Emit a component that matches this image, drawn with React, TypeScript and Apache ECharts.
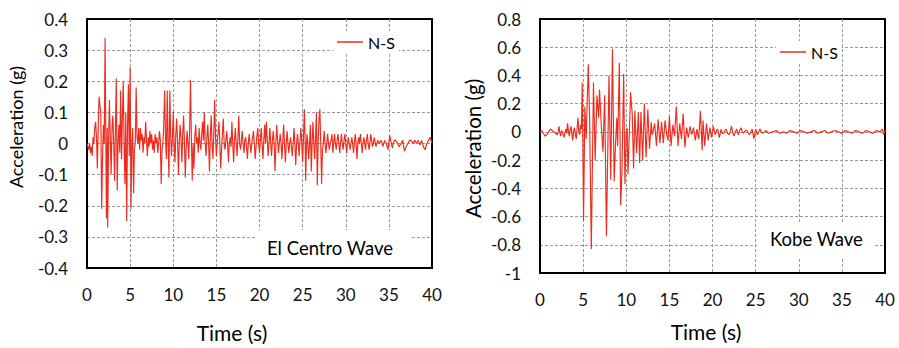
import React, { useEffect, useRef } from "react";
import * as echarts from "echarts";

// [time (s), acceleration (g)]
const elCentroNS: [number, number][] = [
  [0.0, 0.0], [0.1, -0.01], [0.2, -0.02], [0.3, 0.0], [0.4, -0.03], [0.5, -0.01], [0.6, -0.04], [0.7, 0.02], [0.8, 0.0], [0.9, 0.05],
  [1.0, 0.07], [1.1, 0.02], [1.2, -0.08], [1.3, 0.05], [1.4, 0.15], [1.5, 0.12], [1.6, 0.1], [1.7, -0.21], [1.8, -0.05], [1.9, 0.06],
  [2.0, 0.0], [2.1, 0.34], [2.2, -0.05], [2.25, -0.24], [2.35, 0.05], [2.4, -0.27], [2.5, 0.0], [2.6, 0.14], [2.7, 0.02], [2.8, -0.1],
  [2.9, 0.05], [3.0, 0.09], [3.1, 0.0], [3.2, -0.12], [3.3, 0.05], [3.4, 0.21], [3.5, -0.15], [3.6, 0.0], [3.7, 0.06], [3.8, -0.03],
  [3.9, 0.17], [4.0, -0.05], [4.1, 0.08], [4.2, 0.2], [4.3, 0.0], [4.4, -0.13], [4.5, 0.1], [4.6, -0.25], [4.7, 0.05], [4.8, 0.19],
  [4.9, -0.04], [5.0, 0.245], [5.1, -0.21], [5.2, 0.0], [5.3, 0.05], [5.4, -0.16], [5.5, -0.02], [5.6, 0.0], [5.7, 0.18], [5.8, 0.02],
  [5.9, 0.0], [6.0, 0.05], [6.1, -0.02], [6.2, 0.05], [6.3, 0.01], [6.4, 0.03], [6.5, -0.03], [6.6, 0.02], [6.7, 0.0], [6.8, 0.07],
  [6.9, 0.01], [7.0, -0.04], [7.1, 0.02], [7.2, -0.01], [7.3, 0.04], [7.4, 0.0], [7.5, 0.03], [7.6, -0.02], [7.7, 0.01], [7.8, -0.03],
  [7.9, 0.03], [8.0, 0.0], [8.1, 0.02], [8.2, -0.03], [8.3, 0.0], [8.4, 0.04], [8.5, 0.01], [8.6, -0.13], [8.7, -0.02], [8.8, 0.0],
  [8.9, 0.06], [9.0, 0.17], [9.1, 0.02], [9.2, -0.05], [9.3, 0.17], [9.4, 0.0], [9.5, -0.11], [9.6, 0.17], [9.7, 0.03], [9.8, -0.04],
  [9.9, 0.02], [10.0, 0.1], [10.1, 0.0], [10.2, -0.06], [10.3, 0.03], [10.4, 0.08], [10.5, 0.01], [10.6, -0.1], [10.7, 0.0], [10.8, 0.06],
  [10.9, 0.02], [11.0, -0.06], [11.1, 0.03], [11.2, 0.09], [11.3, 0.0], [11.4, -0.11], [11.5, -0.01], [11.6, 0.04], [11.7, 0.0], [11.8, -0.05],
  [11.9, 0.05], [12.0, 0.205], [12.1, 0.02], [12.2, -0.12], [12.3, 0.0], [12.4, -0.08], [12.5, 0.02], [12.6, 0.06], [12.7, 0.0], [12.8, 0.02],
  [12.9, -0.03], [13.0, 0.05], [13.1, 0.0], [13.2, -0.02], [13.3, 0.03], [13.4, 0.07], [13.5, 0.01], [13.6, 0.1], [13.7, 0.0], [13.8, -0.04],
  [13.9, 0.02], [14.0, 0.06], [14.1, 0.0], [14.2, -0.09], [14.3, 0.02], [14.4, 0.09], [14.5, 0.0], [14.6, -0.05], [14.7, 0.03], [14.8, 0.14],
  [14.9, 0.02], [15.0, -0.04], [15.15, 0.02], [15.3, 0.07], [15.4, 0.0], [15.5, -0.08], [15.65, 0.01], [15.8, 0.08], [15.9, 0.0], [16.0, -0.02],
  [16.1, 0.01], [16.2, 0.04], [16.3, 0.0], [16.4, -0.06], [16.5, 0.0], [16.6, 0.02], [16.7, -0.01], [16.8, 0.07], [16.9, 0.0], [17.0, -0.06],
  [17.1, 0.01], [17.2, 0.05], [17.3, 0.0], [17.4, -0.04], [17.5, 0.02], [17.6, 0.09], [17.7, 0.0], [17.8, -0.02], [17.9, 0.01], [18.0, 0.04],
  [18.1, 0.0], [18.2, -0.03], [18.3, 0.01], [18.4, 0.02], [18.5, -0.01], [18.6, -0.05], [18.7, 0.0], [18.8, 0.03], [18.9, 0.0], [19.0, -0.03],
  [19.15, 0.01], [19.3, 0.04], [19.4, 0.0], [19.5, -0.05], [19.65, 0.01], [19.8, 0.05], [19.9, 0.0], [20.0, -0.03], [20.1, 0.01], [20.2, 0.05],
  [20.3, 0.0], [20.4, -0.05], [20.5, 0.01], [20.6, 0.06], [20.7, 0.0], [20.8, 0.07], [20.9, 0.01], [21.0, -0.04], [21.1, 0.0], [21.2, 0.05],
  [21.3, 0.0], [21.4, -0.04], [21.5, 0.01], [21.6, 0.04], [21.7, 0.0], [21.8, -0.09], [21.9, 0.0], [22.0, 0.06], [22.1, 0.01], [22.2, -0.03],
  [22.3, 0.0], [22.4, 0.03], [22.5, 0.0], [22.6, -0.05], [22.7, 0.01], [22.8, 0.06], [22.9, 0.0], [23.0, -0.06], [23.1, 0.0], [23.2, 0.04],
  [23.3, 0.0], [23.4, -0.03], [23.5, 0.0], [23.6, 0.02], [23.7, -0.01], [23.8, -0.04], [23.9, 0.0], [24.0, 0.05], [24.1, 0.0], [24.2, -0.07],
  [24.3, 0.0], [24.4, 0.03], [24.5, 0.0], [24.6, -0.04], [24.7, 0.01], [24.8, 0.05], [24.9, 0.0], [25.0, -0.06], [25.1, 0.02], [25.2, 0.11],
  [25.3, 0.0], [25.35, -0.12], [25.45, 0.0], [25.5, 0.03], [25.6, 0.0], [25.7, -0.05], [25.8, 0.0], [25.9, 0.06], [26.0, -0.09], [26.1, 0.0],
  [26.2, 0.07], [26.3, 0.0], [26.4, -0.05], [26.5, 0.02], [26.6, 0.1], [26.7, -0.135], [26.8, 0.0], [26.9, 0.08], [27.0, 0.11], [27.1, 0.0],
  [27.2, -0.13], [27.3, -0.02], [27.4, 0.0], [27.5, 0.04], [27.6, 0.0], [27.7, -0.03], [27.8, 0.0], [27.9, 0.03], [28.0, 0.0], [28.1, -0.02],
  [28.2, 0.0], [28.3, 0.01], [28.4, 0.03], [28.5, -0.03], [28.6, 0.0], [28.7, 0.03], [28.8, 0.0], [28.9, -0.02], [29.0, 0.01], [29.1, 0.03],
  [29.2, 0.0], [29.3, -0.03], [29.4, 0.0], [29.5, 0.03], [29.6, 0.0], [29.7, -0.02], [29.8, 0.01], [29.9, 0.03], [30.0, 0.0], [30.1, -0.03],
  [30.2, 0.0], [30.3, 0.02], [30.4, 0.0], [30.5, -0.02], [30.6, 0.0], [30.7, 0.02], [30.8, 0.0], [30.9, -0.03], [31.0, 0.0], [31.1, 0.03],
  [31.2, 0.0], [31.3, -0.05], [31.4, 0.0], [31.5, 0.02], [31.6, 0.0], [31.7, 0.03], [31.8, 0.0], [31.9, -0.03], [32.0, 0.0], [32.1, 0.02],
  [32.2, 0.0], [32.3, -0.02], [32.4, 0.01], [32.5, 0.03], [32.6, 0.0], [32.7, -0.02], [32.8, 0.0], [32.9, 0.03], [33.0, 0.01], [33.1, -0.01],
  [33.2, 0.0], [33.3, 0.02], [33.5, -0.01], [33.7, 0.01], [33.9, 0.0], [34.1, 0.01], [34.3, -0.01], [34.5, 0.01], [34.7, 0.0], [34.9, -0.02],
  [35.1, 0.025], [35.3, 0.0], [35.4, -0.015], [35.6, 0.01], [35.8, 0.01], [36.0, 0.0], [36.2, -0.01], [36.4, 0.0], [36.6, 0.01], [36.8, -0.025],
  [37.0, -0.01], [37.2, 0.0], [37.4, 0.01], [37.6, 0.01], [37.8, 0.0], [38.0, 0.01], [38.2, 0.0], [38.4, 0.01], [38.6, -0.005], [38.8, 0.01],
  [39.0, -0.01], [39.2, -0.02], [39.4, 0.0], [39.6, 0.01], [39.8, 0.02], [40.0, 0.0],
];

const kobeNS: [number, number][] = [
  [0.0, 0.0], [0.2, 0.01], [0.4, -0.01], [0.6, -0.03], [0.8, -0.02], [1.0, 0.0], [1.2, 0.02], [1.4, 0.01], [1.6, 0.0], [1.8, -0.01],
  [2.0, -0.02], [2.1, 0.0], [2.2, 0.04], [2.3, -0.01], [2.4, -0.03], [2.5, 0.01], [2.6, 0.0], [2.7, -0.02], [2.8, -0.04], [2.9, 0.0],
  [3.0, 0.02], [3.1, -0.01], [3.2, 0.06], [3.3, 0.0], [3.4, -0.03], [3.5, 0.02], [3.6, 0.04], [3.7, -0.02], [3.8, -0.06], [3.9, 0.01],
  [4.0, 0.03], [4.1, -0.02], [4.2, -0.05], [4.3, 0.02], [4.4, 0.1], [4.5, 0.0], [4.6, -0.02], [4.7, 0.05], [4.8, 0.02], [4.9, 0.35],
  [5.05, -0.63], [5.2, 0.18], [5.35, -0.05], [5.6, 0.48], [5.75, 0.1], [5.95, -0.83], [6.2, 0.35], [6.4, -0.2], [6.6, 0.26], [6.8, 0.1],
  [6.9, 0.3], [7.1, 0.05], [7.3, -0.14], [7.5, 0.26], [7.7, -0.74], [8.0, 0.4], [8.2, -0.34], [8.4, 0.59], [8.6, -0.35], [8.75, -0.1],
  [8.9, 0.1], [9.0, -0.1], [9.2, 0.49], [9.35, -0.52], [9.5, -0.29], [9.7, 0.41], [9.85, -0.37], [10.0, 0.0], [10.1, 0.03], [10.2, -0.3],
  [10.4, 0.07], [10.5, 0.28], [10.7, 0.12], [10.85, -0.26], [11.0, 0.15], [11.2, -0.15], [11.4, 0.14], [11.55, -0.22], [11.7, 0.14], [11.9, -0.2],
  [12.1, 0.2], [12.3, -0.18], [12.5, 0.16], [12.7, -0.12], [12.9, 0.07], [13.0, -0.02], [13.1, 0.0], [13.3, 0.06], [13.5, -0.1], [13.7, 0.09],
  [13.9, -0.08], [14.1, 0.07], [14.3, -0.08], [14.5, 0.08], [14.7, -0.02], [14.85, -0.06], [15.0, 0.11], [15.2, -0.1], [15.4, 0.05], [15.6, -0.03],
  [15.8, 0.18], [16.0, -0.1], [16.2, 0.06], [16.4, -0.05], [16.6, 0.13], [16.8, -0.11], [17.0, 0.03], [17.2, -0.04], [17.4, 0.04], [17.6, -0.02],
  [17.8, 0.03], [18.0, -0.06], [18.2, 0.02], [18.4, -0.05], [18.6, 0.15], [18.8, -0.13], [18.9, 0.08], [19.1, -0.1], [19.3, 0.06], [19.5, -0.06],
  [19.7, 0.03], [19.9, -0.04], [20.1, 0.04], [20.3, -0.02], [20.45, 0.01], [20.6, 0.02], [20.8, -0.04], [21.0, 0.02], [21.15, -0.01], [21.3, -0.01],
  [21.45, 0.01], [21.6, 0.02], [21.75, -0.01], [21.9, -0.02], [22.05, 0.0], [22.2, 0.04], [22.35, 0.0], [22.5, -0.03], [22.65, 0.0], [22.8, 0.02],
  [23.0, -0.02], [23.15, 0.01], [23.3, 0.03], [23.45, 0.0], [23.6, -0.01], [23.8, 0.01], [24.0, 0.01], [24.15, -0.01], [24.3, -0.02], [24.45, 0.0],
  [24.6, 0.02], [24.8, -0.05], [25.0, 0.02], [25.2, -0.02], [25.35, 0.0], [25.5, 0.02], [25.65, 0.0], [25.8, -0.01], [26.0, 0.0], [26.2, 0.01],
  [26.5, -0.01], [27.0, 0.0], [27.4, 0.01], [27.8, -0.01], [28.2, 0.0], [28.6, -0.01], [29.0, 0.01], [29.4, 0.0], [29.8, -0.01], [30.2, 0.01],
  [30.6, 0.0], [31.0, -0.01], [31.4, 0.0], [31.8, 0.01], [32.2, -0.01], [32.6, 0.0], [33.0, 0.01], [33.4, -0.01], [33.8, 0.0], [34.2, 0.01],
  [34.6, 0.0], [35.0, -0.01], [35.4, 0.01], [35.8, 0.0], [36.2, -0.01], [36.6, 0.01], [37.0, 0.0], [37.4, -0.01], [37.8, 0.01], [38.2, 0.0],
  [38.6, -0.01], [39.0, 0.01], [39.4, 0.0], [39.7, 0.02], [39.85, -0.02], [40.0, 0.01],
];

const seriesName = "N-S";
const waveLabels = ["El Centro Wave", "Kobe Wave"];
const xTitle = "Time (s)";
const yTitle = "Acceleration (g)";

const RED = "#ee2b1d";
const FONT = "Lato";

export default function App() {
  const ref = useRef<HTMLDivElement>(null);

  useEffect(() => {
    document.body.style.margin = "0";
    if (!ref.current) return;
    const chart = echarts.init(ref.current, undefined, { renderer: "svg" });

    const fmt = (v: number) => {
      const r = Math.round(v * 10) / 10;
      return r === 0 ? "0" : String(r);
    };

    const split = {
      show: true,
      showMinLine: false,
      showMaxLine: false,
      lineStyle: { color: "#9a9a9a", width: 1, type: [3, 2] as any },
    };

    const grids = [
      { left: 87, top: 19, width: 345, height: 254 },
      { left: 540, top: 19, width: 345, height: 254 },
    ];

    const xNamePad = [[0, 55, 0, 0], [0, 13, 0, 0]];
    const xNameGap = [54, 48];
    const yNamePad = [[0, 0, 0, 33], [0, 5, 0, 0]];
    const yNameGap = [62, 57];
    const yNameSize = [18, 20.5];
    const yRange = [
      { min: -0.4, max: 0.4, interval: 0.1 },
      { min: -1, max: 0.8, interval: 0.2 },
    ];

    const option: any = {
      animation: false,
      textStyle: { fontFamily: FONT },
      grid: grids.map((g) => ({
        ...g,
        show: true,
        borderColor: "#000",
        borderWidth: 2,
        backgroundColor: "transparent",
      })),
      xAxis: [0, 1].map((i) => ({
        type: "value",
        gridIndex: i,
        min: 0,
        max: 40,
        interval: 5,
        name: xTitle,
        nameLocation: "middle",
        nameGap: xNameGap[i],
        nameTextStyle: { fontSize: 21, color: "#000", fontFamily: FONT, padding: xNamePad[i] },
        axisLine: { show: true, onZero: false, lineStyle: { color: "#000", width: 2 } },
        axisTick: { show: false },
        axisLabel: { fontSize: 17, color: "#111", fontFamily: FONT, margin: 18 },
        splitLine: split,
      })),
      yAxis: [0, 1].map((i) => ({
        type: "value",
        gridIndex: i,
        ...yRange[i],
        name: yTitle,
        nameLocation: "middle",
        nameRotate: 90,
        nameGap: yNameGap[i],
        nameTextStyle: { fontSize: yNameSize[i], color: "#000", fontFamily: FONT, padding: yNamePad[i] },
        axisLine: { show: true, lineStyle: { color: "#000", width: 2 } },
        axisTick: { show: false },
        axisLabel: { fontSize: 17, color: "#111", fontFamily: FONT, margin: 19, formatter: fmt },
        splitLine: split,
      })),
      legend: [
        { left: 333, top: 31 },
        { left: 776, top: 41 },
      ].map((p) => ({
        ...p,
        data: [seriesName],
        icon: "rect",
        itemWidth: 26,
        itemHeight: 1.5,
        padding: [3, 4, 3, 4],
        backgroundColor: "#fff",
        selectedMode: false,
        textStyle: { fontSize: 16, color: "#000", fontFamily: FONT },
      })),
      series: [elCentroNS, kobeNS].map((d, i) => ({
        name: seriesName,
        type: "line",
        xAxisIndex: i,
        yAxisIndex: i,
        data: d,
        showSymbol: false,
        symbol: "none",
        color: RED,
        lineStyle: { color: RED, width: 1.15 },
        z: 3,
      })),
      graphic: [
        { type: "rect", z: 100, shape: { x: 255, y: 230, width: 155, height: 37 }, style: { fill: "#fff" } },
        {
          type: "text",
          z: 101,
          x: 267,
          y: 248,
          style: { text: waveLabels[0], font: `18.5px ${FONT}`, fill: "#000", verticalAlign: "middle" },
        },
        { type: "rect", z: 100, shape: { x: 757, y: 222, width: 118, height: 35 }, style: { fill: "#fff" } },
        {
          type: "text",
          z: 101,
          x: 770,
          y: 239,
          style: { text: waveLabels[1], font: `18.5px ${FONT}`, fill: "#000", verticalAlign: "middle" },
        },
      ],
    };

    chart.setOption(option);
    return () => chart.dispose();
  }, []);

  return <div ref={ref} style={{ width: 899, height: 348 }} />;
}
